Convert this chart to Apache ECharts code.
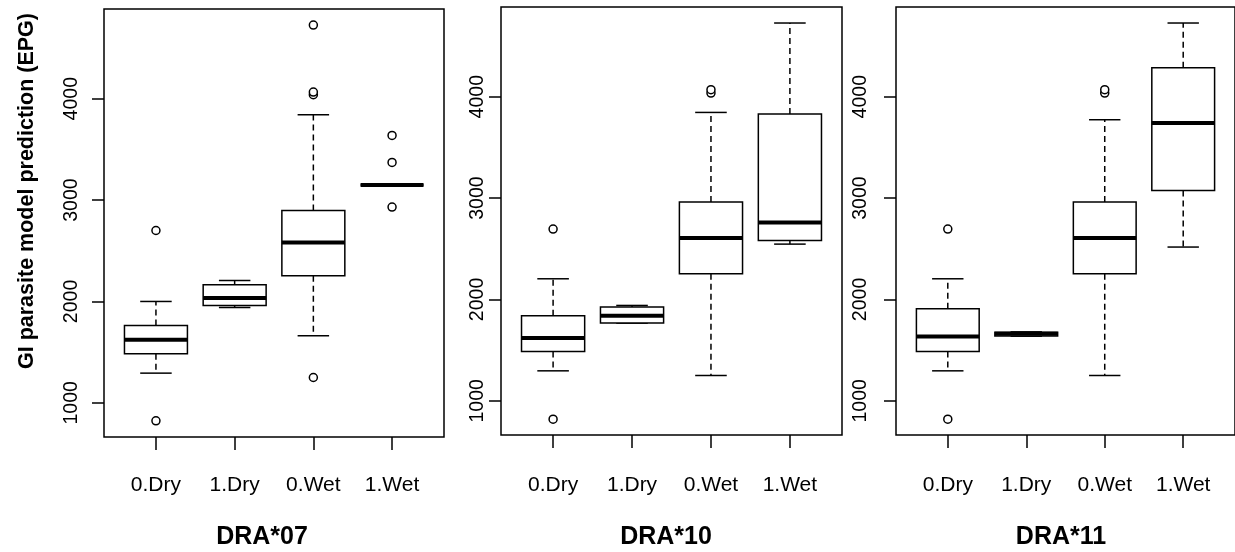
<!DOCTYPE html>
<html>
<head>
<meta charset="utf-8">
<script src="https://cdn.jsdelivr.net/npm/echarts@6/dist/echarts.min.js"></script>
<style>
  html, body { margin: 0; padding: 0; background: #fff; }
  #chart { width: 1235px; height: 552px; }
</style>
</head>
<body>
<div id="chart"></div>
<script>
// Groups shown on every panel's x axis
const groups = ['0.Dry', '1.Dry', '0.Wet', '1.Wet'];
const panelTitles = ['DRA*07', 'DRA*10', 'DRA*11'];
const yTicks = [1000, 2000, 3000, 4000];
const yTitle = 'GI parasite model prediction (EPG)';

// Box summaries per group: [lower whisker, Q1, median, Q3, upper whisker]
const dra07Stats = [
  [1293, 1484, 1622, 1763, 2000],
  [1941, 1961, 2033, 2165, 2207],
  [1661, 2253, 2582, 2898, 3842],
  [3150, 3150, 3150, 3150, 3150]
];
const dra10Stats = [
  [1296, 1487, 1619, 1839, 2204],
  [1767, 1767, 1839, 1925, 1941],
  [1250, 2253, 2606, 2961, 3845],
  [2546, 2582, 2760, 3829, 4727]
];
const dra11Stats = [
  [1296, 1487, 1635, 1908, 2204],
  [1638, 1640, 1662, 1676, 1680],
  [1250, 2253, 2606, 2961, 3773],
  [2517, 3075, 3740, 4286, 4727]
];

// Outlying points: [group number, value]
const dra07Outliers = [[1, 823], [1, 2700], [3, 1250], [3, 4040], [3, 4066], [3, 4727], [4, 2931], [4, 3371], [4, 3638]];
const dra10Outliers = [[1, 819], [1, 2694], [3, 4036], [3, 4069]];
const dra11Outliers = [[1, 819], [1, 2694], [3, 4036], [3, 4069]];

const panelStats = [dra07Stats, dra10Stats, dra11Stats];
const panelOutliers = [dra07Outliers, dra10Outliers, dra11Outliers];

const FONT = '"Liberation Sans", Arial, Helvetica, sans-serif';
const INK = '#000';
const LW = 1.5;

const grids = [
  { left: 104, top: 9, width: 340, height: 428 },
  { left: 501, top: 7, width: 341, height: 428 },
  { left: 896, top: 7, width: 340, height: 428 }
];
const yLabelMargins = [22, 13, 25];
const xLabelMargins = [38, 40, 40];
const titleX = [262, 666, 1061];

// Draws one box-and-whisker glyph from its five summary values
function renderBox(params, api) {
  const x = api.value(0);
  const lw = api.value(1), q1 = api.value(2), med = api.value(3), q3 = api.value(4), uw = api.value(5);
  const half = api.size([0.8, 0])[0] / 2;
  const cap = api.size([0.4, 0])[0] / 2;
  const pLw = api.coord([x, lw]);
  const pQ1 = api.coord([x, q1]);
  const pMed = api.coord([x, med]);
  const pQ3 = api.coord([x, q3]);
  const pUw = api.coord([x, uw]);
  const cx = pMed[0];
  const thin = { stroke: INK, lineWidth: LW, fill: null };
  const dashed = { stroke: INK, lineWidth: LW, lineDash: [6, 4] };
  return {
    type: 'group',
    children: [
      { type: 'line', shape: { x1: cx, y1: pQ3[1], x2: cx, y2: pUw[1] }, style: dashed },
      { type: 'line', shape: { x1: cx, y1: pQ1[1], x2: cx, y2: pLw[1] }, style: dashed },
      { type: 'line', shape: { x1: cx - cap, y1: pUw[1], x2: cx + cap, y2: pUw[1] }, style: thin },
      { type: 'line', shape: { x1: cx - cap, y1: pLw[1], x2: cx + cap, y2: pLw[1] }, style: thin },
      { type: 'rect', shape: { x: cx - half, y: pQ3[1], width: half * 2, height: pQ1[1] - pQ3[1] },
        style: { fill: '#fff', stroke: INK, lineWidth: LW } },
      { type: 'line', shape: { x1: cx - half, y1: pMed[1], x2: cx + half, y2: pMed[1] },
        style: { stroke: INK, lineWidth: 4, lineCap: 'butt' } }
    ]
  };
}

const xAxes = grids.map((g, i) => ({
  type: 'value',
  gridIndex: i,
  min: 0.34,
  max: 4.66,
  axisLine: { show: false },
  splitLine: { show: false },
  axisTick: { show: true, customValues: [1, 2, 3, 4], length: 13, lineStyle: { color: INK, width: LW } },
  axisLabel: {
    customValues: [1, 2, 3, 4],
    formatter: v => groups[Math.round(v) - 1],
    color: INK, fontFamily: FONT, fontSize: 21, margin: xLabelMargins[i]
  }
}));

const yAxes = grids.map((g, i) => ({
  type: 'value',
  gridIndex: i,
  min: 663,
  max: 4885,
  axisLine: { show: false },
  splitLine: { show: false },
  axisTick: { show: true, customValues: yTicks, length: 12, lineStyle: { color: INK, width: LW } },
  axisLabel: {
    customValues: yTicks,
    formatter: v => String(v),
    rotate: 90,
    color: INK, fontFamily: FONT, fontSize: 19.5, margin: yLabelMargins[i]
  }
}));

const series = [];
panelStats.forEach((stats, i) => {
  series.push({
    type: 'custom',
    xAxisIndex: i,
    yAxisIndex: i,
    renderItem: renderBox,
    encode: { x: 0, y: [1, 2, 3, 4, 5] },
    data: stats.map((s, k) => [k + 1].concat(s)),
    z: 2
  });
  series.push({
    type: 'scatter',
    xAxisIndex: i,
    yAxisIndex: i,
    symbol: 'circle',
    symbolSize: 8,
    itemStyle: { color: '#fff', borderColor: INK, borderWidth: LW, opacity: 1 },
    data: panelOutliers[i],
    z: 3
  });
});

const graphics = panelTitles.map((t, i) => ({
  type: 'text',
  x: titleX[i],
  y: 537,
  style: {
    text: t, fill: INK, font: 'bold 25px ' + FONT,
    textAlign: 'center', textVerticalAlign: 'middle'
  }
}));
graphics.push({
  type: 'text',
  x: 27,
  y: 191,
  rotation: Math.PI / 2,
  style: {
    text: yTitle, fill: INK, font: 'bold 21.5px ' + FONT,
    textAlign: 'center', textVerticalAlign: 'middle'
  }
});

const chart = echarts.init(document.getElementById('chart'), null, { renderer: 'canvas' });
chart.setOption({
  animation: false,
  backgroundColor: '#fff',
  grid: grids.map(g => Object.assign({ show: true, borderColor: INK, borderWidth: LW, backgroundColor: 'transparent' }, g)),
  xAxis: xAxes,
  yAxis: yAxes,
  series: series,
  graphic: graphics
});
</script>
</body>
</html>
